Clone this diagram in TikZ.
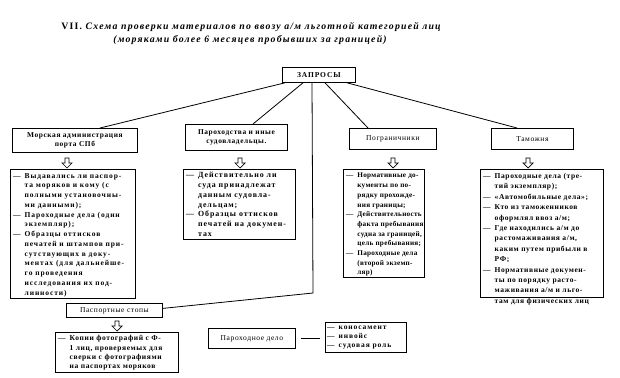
\documentclass[tikz,border=0pt]{standalone}
\usepackage{fontspec}
\setmainfont{Liberation Serif}
\newfontfamily\lsfont[LetterSpace=12]{Liberation Serif}
\newfontfamily\lsfontm[LetterSpace=8]{Liberation Serif}
\newfontfamily\lsfontt[LetterSpace=4]{Liberation Serif}
\usetikzlibrary{calc}
\newcommand\itemlist[1]{\begin{tabular}{@{}l@{\hspace{4pt}}l@{}}#1\end{tabular}}
\tikzset{
  frame/.style={draw, line width=0.8pt, inner sep=0pt, anchor=north west, align=center},
  boxfont/.style={font=\lsfontm\bfseries\fontsize{7.4}{9.5}\selectfont},
  lightfont/.style={font=\lsfontm\fontsize{7.5}{9.5}\selectfont},
  detfont/.style={anchor=north west, inner sep=0pt, font=\lsfont\bfseries\fontsize{7.5}{9.75}\selectfont},
  conn/.style={line width=0.8pt},
  harrow/.pic={\draw[line width=0.7pt] (-2,0) -- (2,0) -- (2,5) -- (5,5) -- (0,10) -- (-5,5) -- (-2,5) -- cycle;}
}
\begin{document}
\begin{tikzpicture}[x=1pt,y=-1pt]
\useasboundingbox (0,0) rectangle (620,377);
% title
\node[font=\lsfont\bfseries\fontsize{9.8}{12}\selectfont] (t1) at (251,27) {VII. \itshape Схема проверки материалов по ввозу а/м льготной категорией лиц};
\node[font=\lsfont\bfseries\itshape\fontsize{9.8}{12}\selectfont] (t2) at (250,40) {(моряками более 6 месяцев пробывших за границей)};
% top
\node[frame, font=\lsfont\bfseries\fontsize{7.5}{9.5}\selectfont, minimum width=73, minimum height=15] (zap) at (282,67) {ЗАПРОСЫ};
\node[frame, boxfont, minimum width=125, minimum height=24] (mor) at (12,128) {Морская администрация\\порта СПб};
\node[frame, boxfont, minimum width=102, minimum height=26] (par) at (185,124) {Пароходства и иные\\судовладельцы.};
\node[frame, lightfont, minimum width=87, minimum height=21] (pog) at (349,128) {Пограничники};
\node[frame, lightfont, minimum width=82, minimum height=21] (tam) at (491,128) {Таможня};
% detail frames
\node[frame, minimum width=125, minimum height=129] (morD) at (10,169) {};
\node[frame, minimum width=112, minimum height=70] (parD) at (183,169) {};
\node[frame, minimum width=81, minimum height=108] (pogD) at (343,169) {};
\node[frame, minimum width=123, minimum height=128] (tamD) at (480,169) {};
\node[detfont] (morT) at ($(morD.north west)+(3,2)$) {\itemlist{
— & Выдавались ли паспор-\\
  & та моряков и кому (с\\
  & полными установочны-\\
  & ми данными);\\
— & Пароходные дела (один\\
  & экземпляр);\\
— & Образцы оттисков\\
  & печатей и штампов при-\\
  & сутствующих в доку-\\
  & ментах (для дальнейше-\\
  & го проведения\\
  & исследования их под-\\
  & линности)}};
\node[detfont, font=\lsfont\bfseries\fontsize{7.9}{9.7}\selectfont] (parT) at ($(parD.north west)+(3,2)$) {\itemlist{
— & Действительно ли\\
  & суда принадлежат\\
  & данным судовла-\\
  & дельцам;\\
— & Образцы оттисков\\
  & печатей на докумен-\\
  & тах}};
\node[detfont, font=\lsfontt\bfseries\fontsize{7.2}{9.7}\selectfont] (pogT) at ($(pogD.north west)+(3,2)$) {\itemlist{
— & Нормативные до-\\
  & кументы по по-\\
  & рядку прохожде-\\
  & ния границы;\\
— & Действительность\\
  & факта пребывания\\
  & судна за границей,\\
  & цель пребывания;\\
— & Пароходные дела\\
  & (второй экземп-\\
  & ляр)}};
\node[detfont, font=\lsfontm\bfseries\fontsize{7.5}{10.4}\selectfont] (tamT) at ($(tamD.north west)+(3,2)$) {\itemlist{
— & Пароходные дела (тре-\\
  & тий экземпляр);\\
— & «Автомобильные дела»;\\
— & Кто из таможенников\\
  & оформлял ввоз а/м;\\
— & Где находились а/м до\\
  & растомаживания а/м,\\
  & каким путем прибыли в\\
  & РФ;\\
— & Нормативные докумен-\\
  & ты по порядку расто-\\
  & маживания а/м и льго-\\
  & там для физических лиц}};
% bottom
\node[frame, lightfont, minimum width=96, minimum height=14] (pas) at (66,303) {Паспортные стопы};
\node[frame, minimum width=123, minimum height=40] (kop) at (55,332) {};
\node[detfont, font=\lsfontm\bfseries\fontsize{7.5}{9.3}\selectfont] (kopT) at ($(kop.north west)+(3,2)$) {\itemlist{
— & Копии фотографий с Ф-\\
  & 1 лиц, проверяемых для\\
  & сверки с фотографиями\\
  & на паспортах моряков}};
\node[frame, lightfont, minimum width=87, minimum height=20] (pdelo) at (208,328) {Пароходное дело};
\node[frame, minimum width=81, minimum height=30] (lst) at (325,322) {};
\node[detfont, font=\lsfont\bfseries\fontsize{7.5}{9}\selectfont] (lstT) at ($(lst.north west)+(2,1)$) {\itemlist{
— & коносамент\\
— & инвойс\\
— & судовая роль}};
% connectors
\draw[conn] ($(zap.south west)+(3,0)$) -- ($(mor.north west)+(88,0)$);
\draw[conn] ($(zap.south west)+(21,0)$) -- ($(par.north west)+(68,0)$);
\draw[conn] ($(zap.south west)+(43,0)$) -- ($(pog.north west)+(19,0)$);
\draw[conn] ($(zap.south west)+(65,0)$) -- ($(tam.north west)+(26,0)$);
\coordinate (bend) at (313,293);
\draw[conn] ($(zap.south west)+(30,0)$) -- (bend) -- ($(pas.east)+(0,-2)$);
\draw[conn] ($(pdelo.east)+(5,0)$) -- ($(lst.west)+(-5,1)$);
% hollow arrows
\pic at ($(morD.north west)+(57,-11)$) {harrow};
\pic at ($(parD.north west)+(57,-11)$) {harrow};
\pic at ($(pogD.north west)+(50,-11)$) {harrow};
\pic at ($(tamD.north west)+(48,-11)$) {harrow};
\pic at ($(kop.north west)+(62,-11)$) {harrow};
\end{tikzpicture}
\end{document}
